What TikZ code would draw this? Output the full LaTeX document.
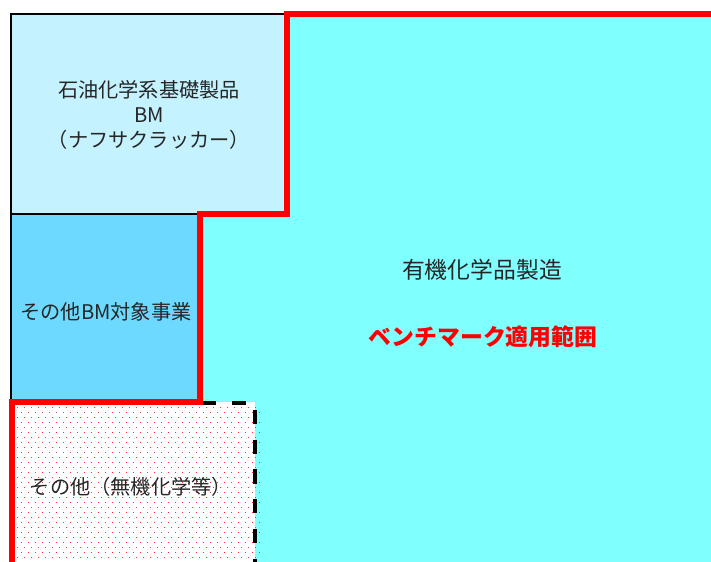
\documentclass[tikz,border=0pt]{standalone}
\usepackage{fontspec}
\newfontfamily\jpfont{Noto Sans CJK JP}
\usepackage{tikz}

\definecolor{organiccyan}{HTML}{80FFFF}
\definecolor{naphthablue}{HTML}{C5F2FF}
\definecolor{otherbmblue}{HTML}{6DD9FF}

\begin{document}
\begin{tikzpicture}
  [x=0.02cm,y=-0.02cm,every node/.style={font=\jpfont\fontsize{11.5}{14.2}\selectfont,align=center,inner sep=0pt,text=black!85}]

  \tikzstyle{scopeline} = [red, line width=3.3pt, line join=miter]
  \tikzstyle{frame} = [black, line width=0.8pt]
  \tikzstyle{dashframe} = [black, line width=2.3pt, dash pattern=on 8pt off 9pt]
  \tikzstyle{big} = [font=\jpfont\fontsize{13}{16}\selectfont]

  \useasboundingbox (0,0) rectangle (711,562);

  % areas
  \fill[organiccyan] (200,14) rectangle (711,562);
  \fill[naphthablue] (11,14) rectangle (287,214);
  \fill[otherbmblue] (11,214) rectangle (200,402);
  \fill[white] (12,402) rectangle (255,562);
  \foreach \i in {0,...,31}
    \foreach \j in {0,...,34}
      \fill[red!80] ({17+7*\j+mod(\i,2)*3.5},{407+5*\i}) rectangle +(1.2,1.2);

  % borders
  \draw[frame] (287,14) -- (11,14) -- (11,402);
  \draw[frame] (11,214) -- (200,214);
  \draw[dashframe] (202,403) -- (255,403) -- (255,562);
  \draw[scopeline] (711,14) -- (287,14) -- (287,214) -- (200,214) -- (200,402) -- (12,402) -- (12,562);

  \node (naphtha) at (149,115) {石油化学系基礎製品\\BM\\（ナフサクラッカー）};
  \node (otherbm) at (106,312) {その他BM対象事業};
  \node (others) at (131,487) {その他（無機化学等）};
  \node[big] (organic) at (482,270) {有機化学品製造};
  \node[big,text=red,font=\jpfont\bfseries\fontsize{13}{16}\selectfont] (scope) at (483,337) {ベンチマーク適用範囲};
\end{tikzpicture}
\end{document}
